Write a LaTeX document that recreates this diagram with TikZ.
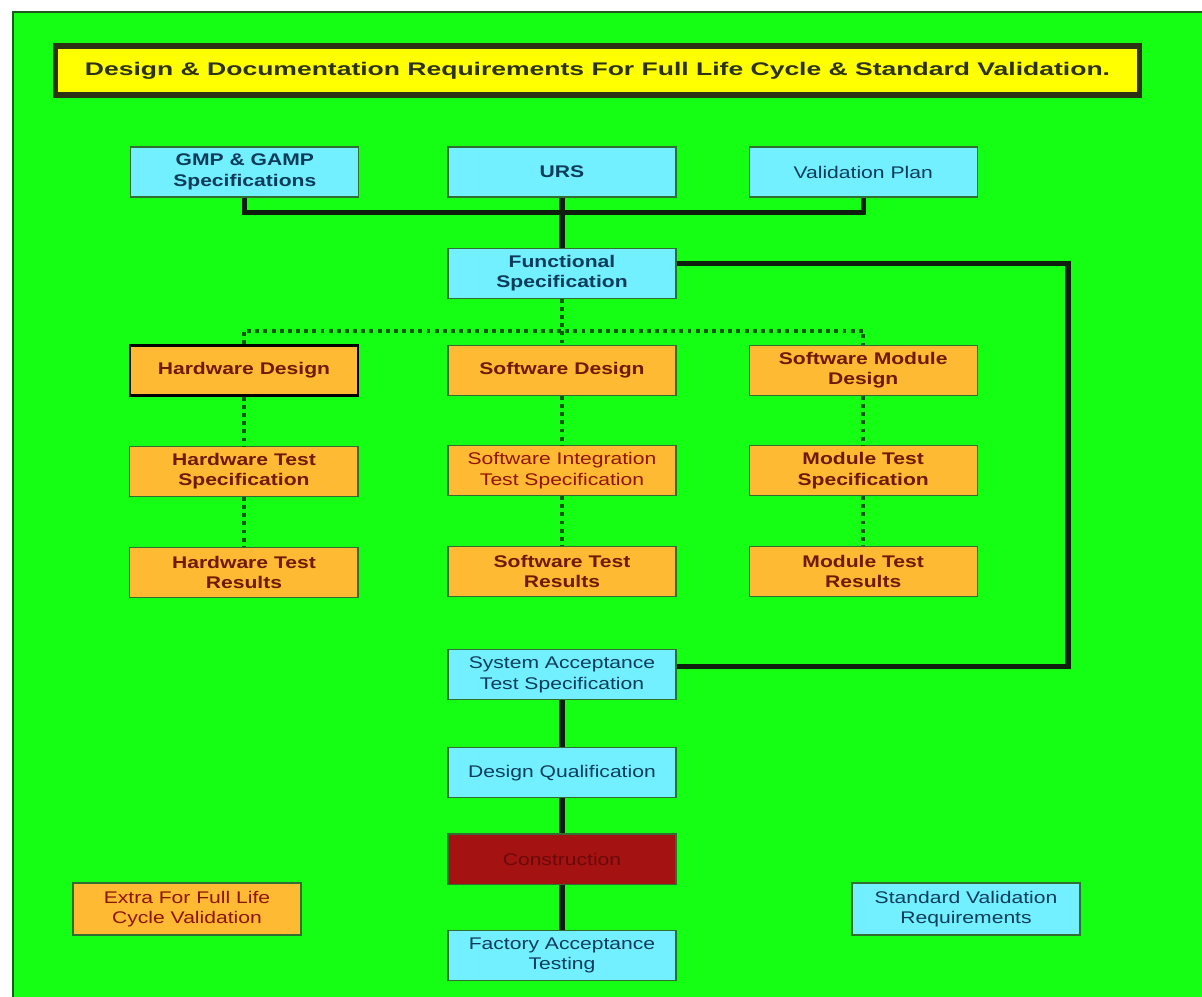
\documentclass[tikz,border=0pt]{standalone}
\usepackage{fontspec}
\setmainfont[FakeStretch=1.25]{Liberation Sans}
\newfontfamily\titlefont[FakeStretch=1.45]{Liberation Sans}
\usepackage{tikz}
\usetikzlibrary{positioning}
\definecolor{bggreen}{RGB}{20,255,20}
\definecolor{framegreen}{RGB}{30,90,30}
\definecolor{boxedge}{RGB}{50,110,50}
\definecolor{boxcyan}{RGB}{115,240,255}
\definecolor{boxorange}{RGB}{255,186,52}
\definecolor{cyantext}{RGB}{10,60,90}
\definecolor{orangetext}{RGB}{110,25,0}
\definecolor{titleyellow}{RGB}{255,255,0}
\definecolor{titleedge}{RGB}{45,50,20}
\definecolor{conred}{RGB}{165,18,18}
\definecolor{context}{RGB}{105,10,10}
\definecolor{linkblack}{RGB}{15,30,15}
\definecolor{dotgreen}{RGB}{10,90,10}
\tikzstyle{link}= [line width=3.6pt, draw=linkblack]
\tikzstyle{dotlink}= [line width=2.8pt, draw=dotgreen, dash pattern=on 2.8pt off 3pt]

\begin{document}
\begin{tikzpicture}[
		x=0.025cm, y=-0.025cm,
		node distance=1.2cm,
		font=\fontsize{12}{14.5}\selectfont,
    heavy/.style={font=\fontsize{12}{14.5}\selectfont\bfseries},
    box/.style={
    draw=boxedge, line width=0.8pt, align=center, inner sep=1pt,
    minimum width=5.7cm, minimum height=1.25cm
    },
    cyanbox/.style={box, fill=boxcyan, text=cyantext},
    orangebox/.style={box, fill=boxorange, text=orangetext}
	]

  % page and frame
  \useasboundingbox (0,0) rectangle (1202,996);
  \fill[white] (0,0) rectangle (1202,996);
  \draw[fill=bggreen,draw=framegreen,line width=1.5pt] (13,12) rectangle (1230,1020);

  \node[font=\titlefont\fontsize{13}{15}\selectfont\bfseries,draw=titleedge,line width=4pt,
        fill=titleyellow,text=titleedge,minimum width=27.1cm,minimum height=1.235cm] (title) at (597.5,70.5)
        {Design \& Documentation Requirements For Full Life Cycle \& Standard Validation.};

  % inputs
  \node[cyanbox,heavy] (urs) at (562,172) {URS};
  \node[cyanbox,heavy,left=2.2cm of urs] (gmp) {GMP \& GAMP\\Specifications};
  \node[cyanbox,right=1.8cm of urs] (vp) {Validation Plan};
  \node[cyanbox,heavy,below=1.25cm of urs] (fs) {Functional\\Specification};

  % design columns
  \node[orangebox,heavy,below=1.15cm of fs] (sd) {Software Design};
  \node[orangebox,heavy,left=2.2cm of sd,draw=black,line width=2pt] (hd) {Hardware Design};
  \node[orangebox,heavy,right=1.8cm of sd] (smd) {Software Module\\Design};
  \node[orangebox,below=1.225cm of sd,text=orangetext!75!red] (sits) {Software Integration\\Test Specification};
  \node[orangebox,heavy,below=1.225cm of hd] (hts) {Hardware Test\\Specification};
  \node[orangebox,heavy,below=1.225cm of smd] (mts) {Module Test\\Specification};
  \node[orangebox,heavy,below=1.25cm of sits] (str) {Software Test\\Results};
  \node[orangebox,heavy,below=1.25cm of hts] (htr) {Hardware Test\\Results};
  \node[orangebox,heavy,below=1.25cm of mts] (mtr) {Module Test\\Results};

  % main line
  \node[cyanbox,below=1.3cm of str] (sat) {System Acceptance\\Test Specification};
  \node[cyanbox,below=1.175cm of sat] (dq) {Design Qualification};
  \node[box,fill=conred,text=context,below=0.875cm of dq] (con) {Construction};
  \node[cyanbox,below=1.125cm of con] (fat) {Factory Acceptance\\Testing};

  % key
  \node[orangebox,text=orangetext!80!red,minimum height=1.3cm] (extra) at (187,909) {Extra For Full Life\\Cycle Validation};
  \node[cyanbox,minimum height=1.3cm] (std) at (966,909) {Standard Validation\\Requirements};

  \coordinate[below=0.375cm of urs] (topbus);
  \draw[link] (gmp.south) |- (topbus) -| (vp.south);
  \draw[link] (urs) -- (fs);

  \coordinate[below=0.8cm of fs] (dotbus);
  \draw[dotlink] (hd.north) |- (dotbus) -| (smd.north);
  \draw[dotlink] (fs) -- (sd);
  \draw[dotlink] (hd) -- (hts);
  \draw[dotlink] (hts) -- (htr);
  \draw[dotlink] (sd) -- (sits);
  \draw[dotlink] (sits) -- (str);
  \draw[dotlink] (smd) -- (mts);
  \draw[dotlink] (mts) -- (mtr);

  \coordinate (fsr) at ([yshift=2.5mm]fs.east);
  \coordinate (rx) at (1068,0);
  \draw[link] (fsr) -- (fsr -| rx) |- ([yshift=2mm]sat.east);
  \draw[link] (sat) -- (dq);
  \draw[link] (dq) -- (con);
  \draw[link] (con) -- (fat);

\end{tikzpicture}
\end{document}
